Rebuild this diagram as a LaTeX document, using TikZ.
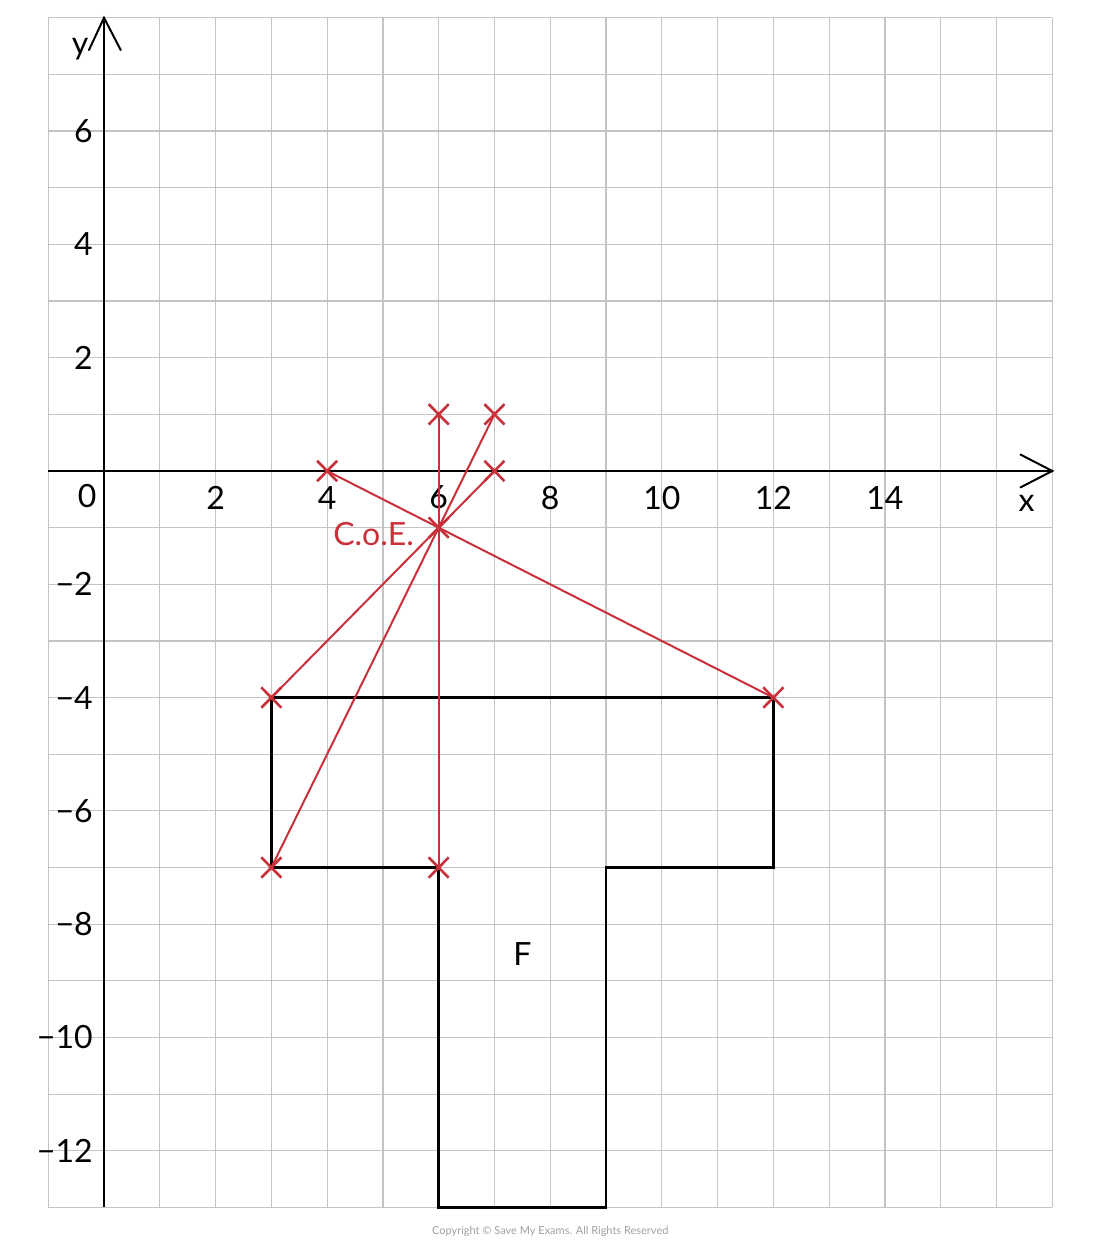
\documentclass[tikz,border=0pt]{standalone}
\usepackage{fontspec}
\setmainfont{Lato}
\usetikzlibrary{calc}
\definecolor{coered}{HTML}{C8303A}
\definecolor{gridgray}{HTML}{C4C4C4}
\begin{document}
\begin{tikzpicture}[x=55.78pt,y=56.65pt,
  gridline/.style={gridgray,line width=1.2pt},
  axisline/.style={black,line width=2.4pt},
  shapeline/.style={black,line width=2.4pt,line join=miter},
  redline/.style={coered,line width=2pt},
  lbl/.style={font=\fontsize{32}{36}\selectfont,inner sep=0pt},
  ylbl/.style={lbl,anchor=east},
  xlbl/.style={lbl},
  crossmark/.style={coered,line width=2.6pt}]
\useasboundingbox (-1.8645,8.314) rectangle (17.856,-13.61);
% grid
\foreach \i in {-1,...,17} \draw[gridline] (\i,-13) -- (\i,8);
\foreach \j in {-13,...,8} \draw[gridline] (-1,\j) -- (17,\j);
% axes
\coordinate (ytop) at (0,8);
\coordinate (ybot) at (0,-13);
\coordinate (xleft) at (-1,0);
\coordinate (xright) at (17,0);
\draw[axisline] (ybot) -- (ytop);
\draw[axisline] (xleft) -- (xright);
\draw[black,line width=2pt,line cap=round,line join=miter] ($(ytop)+(-0.27,-0.57)$) -- (ytop) -- ($(ytop)+(0.30,-0.57)$);
\draw[black,line width=2pt,line cap=round,line join=miter] ($(xright)+(-0.57,0.29)$) -- (xright) -- ($(xright)+(-0.57,-0.29)$);
\node[lbl] (ylab) at (-0.43,7.45) {y};
\node[lbl] (xlab) at (16.54,-0.57) {x};
\node[lbl] (o) at (-0.30,-0.44) {0};
% x tick labels
\foreach \v in {2,4,6,8,10,12,14} \node[xlbl] (xl\v) at (\v,-0.47) {\v};
% y tick labels
\foreach \v in {6,4,2} \node[ylbl] (yl\v) at (-0.2,\v) {\v};
\foreach \v in {2,4,6,8,10,12} \node[ylbl] (ylm\v) at (-0.2,-\v) {−\v};
% shape F
\draw[shapeline] (3,-4) -- (12,-4) -- (12,-7) -- (9,-7) -- (9,-13) -- (6,-13) -- (6,-7) -- (3,-7) -- cycle;
\node[lbl] (F) at (7.5,-8.53) {F};
% centre of enlargement and rays
\coordinate (C) at (6,-1);
\coordinate (p1) at (4,0);
\coordinate (p2) at (6,1);
\coordinate (p3) at (7,1);
\coordinate (p4) at (7,0);
\coordinate (p5) at (12,-4);
\coordinate (p6) at (3,-4);
\coordinate (p7) at (3,-7);
\coordinate (p8) at (6,-7);
\foreach \p in {p1,p2,p3,p4,p5,p6,p7,p8} \draw[redline] (C) -- (\p);
\foreach \p in {C,p1,p2,p3,p4,p5,p6,p7,p8} {
  \draw[crossmark] ($(\p)+(-0.18,0.18)$) -- ($(\p)+(0.18,-0.18)$);
  \draw[crossmark] ($(\p)+(-0.18,-0.18)$) -- ($(\p)+(0.18,0.18)$);
}
\node[lbl,coered,anchor=east] (coe) at (5.56,-1.12) {C.o.E.};
% copyright
\node[font=\fontsize{11}{13}\selectfont,text=gray!75,inner sep=0pt] (copy) at (8.0,-13.42) {Copyright © Save My Exams. All Rights Reserved};
\end{tikzpicture}
\end{document}
